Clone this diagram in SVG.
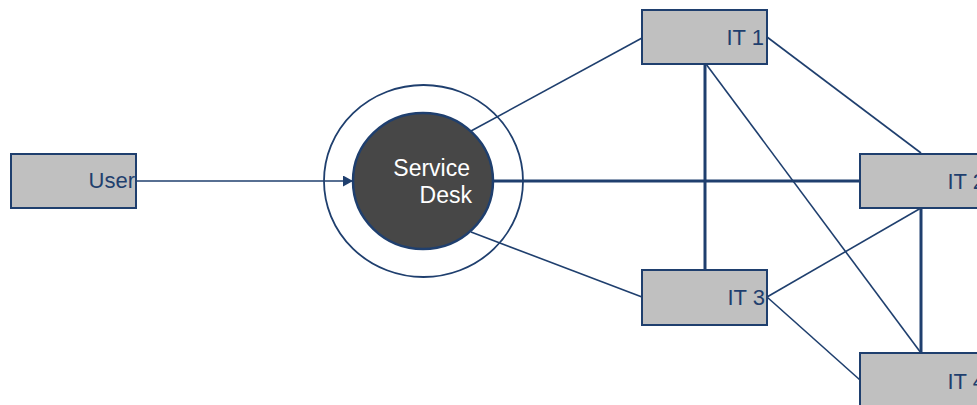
<svg xmlns="http://www.w3.org/2000/svg" width="977" height="405" viewBox="0 0 977 405">
<style>
.box{fill:#c0c0c0;stroke:#1f3f6e;stroke-width:2}
.lbl{font-family:"Liberation Sans",Arial,sans-serif;font-size:22px;fill:#1f3f6e;text-anchor:end}
.wl{font-family:"Liberation Sans",Arial,sans-serif;font-size:23px;fill:#ffffff;text-anchor:end}
.thin{stroke:#1f3f6e;stroke-width:1.6;fill:none}
.thick{stroke:#1f3f6e;stroke-width:3;fill:none}
</style>
<defs>
<marker id="arr" viewBox="0 0 10 11" refX="10" refY="5.5" markerWidth="10" markerHeight="11" orient="auto" markerUnits="userSpaceOnUse">
<path d="M0,0 L10,5.5 L0,11 z" fill="#1f3f6e"/>
</marker>
</defs>
<g id="servicedesk">
<ellipse cx="423.5" cy="181" rx="99.5" ry="96" fill="none" stroke="#1f3f6e" stroke-width="1.8"/>
<ellipse cx="423" cy="181" rx="70" ry="68" fill="#474747" stroke="#1f3f6e" stroke-width="2.5"/>
<text class="wl" x="470" y="176">Service</text>
<text class="wl" x="472" y="203">Desk</text>
</g>
<g id="connectors">
<line class="thin" x1="136" y1="181" x2="353" y2="181" marker-end="url(#arr)"/>
<line class="thin" x1="471" y1="131" x2="642" y2="38"/>
<line class="thin" x1="471" y1="232" x2="642" y2="297"/>
<line class="thick" x1="493" y1="181" x2="860" y2="181"/>
<line class="thick" x1="705" y1="64" x2="705" y2="270"/>
<line class="thin" x1="767" y1="37" x2="921" y2="153"/>
<line class="thin" x1="706" y1="64" x2="921" y2="353"/>
<line class="thin" x1="767" y1="297" x2="921" y2="208"/>
<line class="thin" x1="767" y1="297" x2="860" y2="380"/>
<line class="thick" x1="921" y1="208" x2="921" y2="353"/>
</g>
<g id="user">
<rect class="box" x="11" y="154" width="125" height="54"/>
<text class="lbl" x="135" y="188">User</text>
</g>
<g id="it1">
<rect class="box" x="642" y="10" width="125" height="54"/>
<text class="lbl" x="764" y="45">IT 1</text>
</g>
<g id="it2">
<rect class="box" x="860" y="154" width="125" height="54"/>
<text class="lbl" x="985" y="189">IT 2</text>
</g>
<g id="it3">
<rect class="box" x="642" y="270" width="125" height="55"/>
<text class="lbl" x="765" y="305">IT 3</text>
</g>
<g id="it4">
<rect class="box" x="860" y="353" width="125" height="60"/>
<text class="lbl" x="985" y="389">IT 4</text>
</g>
</svg>
